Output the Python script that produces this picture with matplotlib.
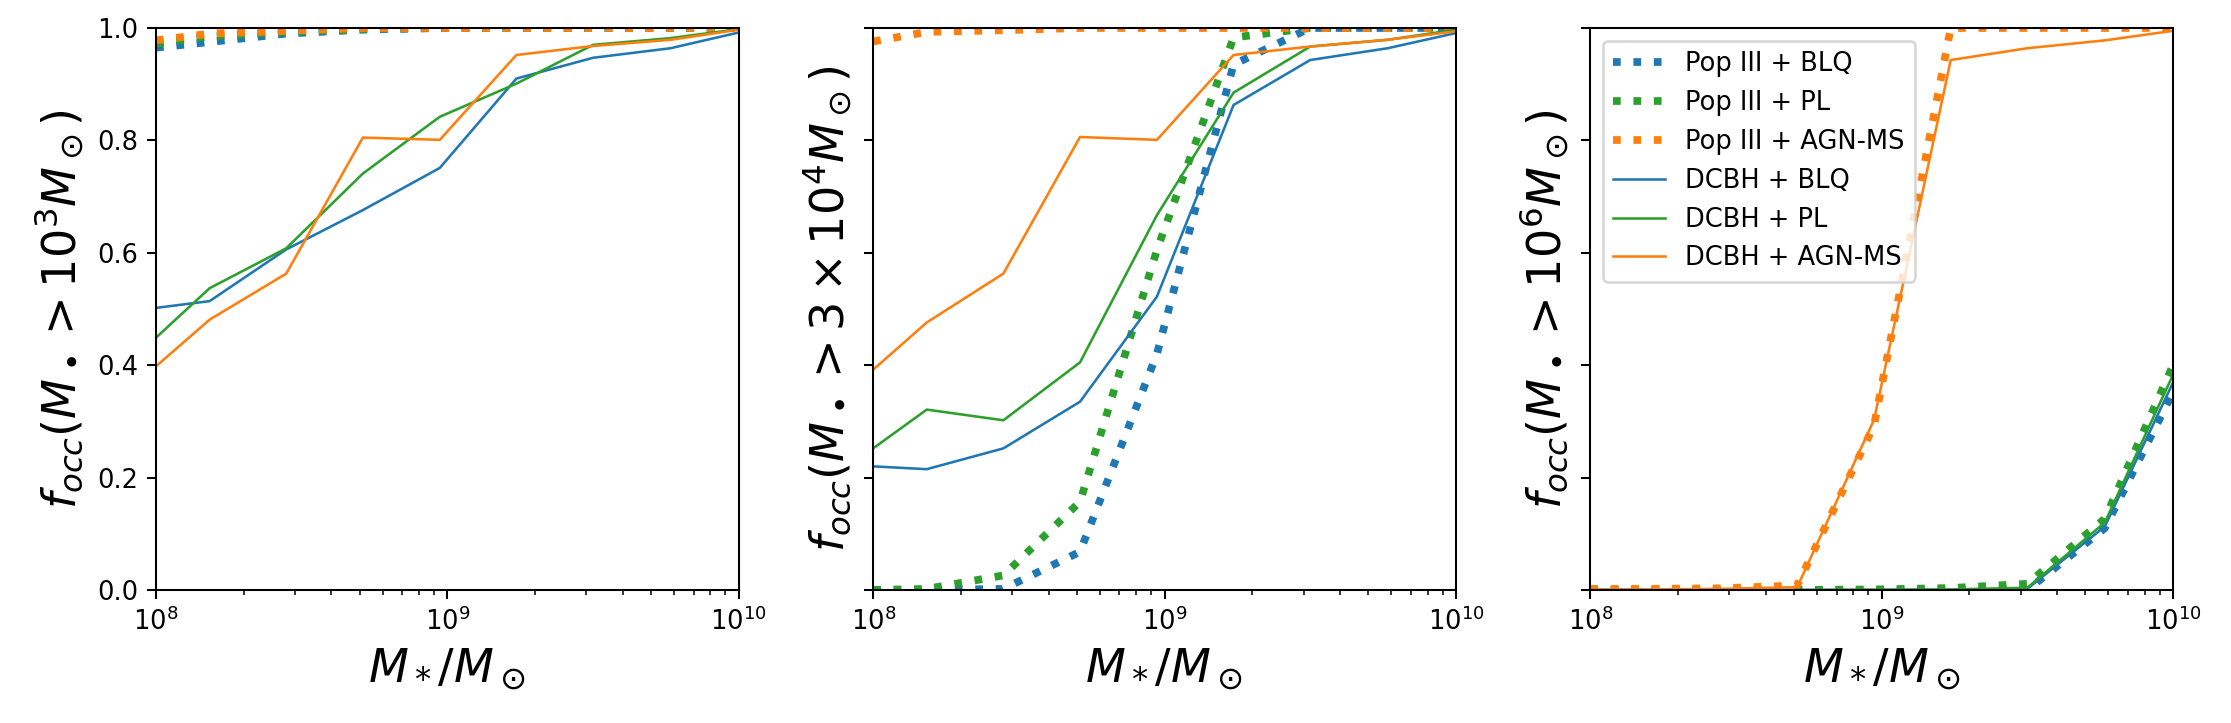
import numpy as np
import matplotlib
matplotlib.use("Agg")
import matplotlib.pyplot as plt

# stellar-mass bin positions (log10 M*/Msun)
log_mstar = [8.0, 8.184, 8.447, 8.71, 8.974, 9.237, 9.50, 9.766, 10.0]

labels = ["Pop III + BLQ", "Pop III + PL", "Pop III + AGN-MS",
          "DCBH + BLQ", "DCBH + PL", "DCBH + AGN-MS"]
ylabels = [r"$f_{occ}(M_\bullet > 10^3 M_\odot)$",
           r"$f_{occ}(M_\bullet > 3 \times 10^4 M_\odot)$",
           r"$f_{occ}(M_\bullet > 10^6 M_\odot)$"]

# Panel 1: M_BH > 1e3
p1_pop3_blq = [0.965, 0.975, 0.990, 0.997, 1.0, 1.0, 1.0, 1.0, 1.0]
p1_pop3_pl = [0.972, 0.985, 0.993, 0.998, 1.0, 1.0, 1.0, 1.0, 1.0]
p1_pop3_ms = [0.978, 0.990, 0.995, 1.0, 1.0, 1.0, 1.0, 1.0, 1.0]
p1_dcbh_blq = [0.502, 0.514, 0.606, 0.676, 0.751, 0.910, 0.947, 0.964, 0.992]
p1_dcbh_pl = [0.449, 0.537, 0.608, 0.741, 0.842, 0.901, 0.970, 0.982, 0.998]
p1_dcbh_ms = [0.398, 0.481, 0.563, 0.805, 0.801, 0.952, 0.968, 0.979, 0.997]

# Panel 2: M_BH > 3e4
p2_pop3_blq = [0.0, 0.0, 0.002, 0.068, 0.420, 0.935, 1.0, 1.0, 1.0]
p2_pop3_pl = [0.0, 0.002, 0.026, 0.157, 0.605, 0.983, 1.0, 1.0, 1.0]
p2_pop3_ms = [0.976, 0.993, 0.996, 1.0, 1.0, 1.0, 1.0, 1.0, 1.0]
p2_dcbh_blq = [0.220, 0.215, 0.252, 0.335, 0.522, 0.863, 0.943, 0.964, 0.991]
p2_dcbh_pl = [0.252, 0.321, 0.302, 0.405, 0.667, 0.885, 0.967, 0.979, 0.997]
p2_dcbh_ms = [0.392, 0.476, 0.563, 0.806, 0.801, 0.952, 0.967, 0.979, 0.994]

# Panel 3: M_BH > 1e6
p3_pop3_blq = [0.0, 0.0, 0.0, 0.0, 0.0, 0.0, 0.0, 0.110, 0.352]
p3_pop3_pl = [0.0, 0.0, 0.0, 0.0, 0.001, 0.0035, 0.011, 0.127, 0.400]
p3_pop3_ms = [0.002, 0.002, 0.003, 0.008, 0.293, 1.0, 1.0, 1.0, 1.0]
p3_dcbh_blq = [0.0, 0.0, 0.0, 0.0, 0.0, 0.0, 0.002, 0.113, 0.369]
p3_dcbh_pl = [0.0, 0.0, 0.0, 0.0, 0.0005, 0.001, 0.004, 0.120, 0.383]
p3_dcbh_ms = [0.001, 0.001, 0.002, 0.005, 0.303, 0.943, 0.964, 0.978, 0.995]

panels = [
    [p1_pop3_blq, p1_pop3_pl, p1_pop3_ms, p1_dcbh_blq, p1_dcbh_pl, p1_dcbh_ms],
    [p2_pop3_blq, p2_pop3_pl, p2_pop3_ms, p2_dcbh_blq, p2_dcbh_pl, p2_dcbh_ms],
    [p3_pop3_blq, p3_pop3_pl, p3_pop3_ms, p3_dcbh_blq, p3_dcbh_pl, p3_dcbh_ms],
]

colors = ["#1f77b4", "#2ca02c", "#ff7f0e"] * 2
styles = [":"] * 3 + ["-"] * 3
widths = [3] * 3 + [1] * 3

mstar = 10 ** np.array(log_mstar)

W, H, DPI = 2231, 723, 185
fig, axes = plt.subplots(1, 3, sharey=True, figsize=(W / DPI, H / DPI), dpi=DPI)
fig.subplots_adjust(left=156 / W, right=2173 / W, bottom=1 - 590 / H,
                    top=1 - 28 / H, wspace=134.5 / 583)

for ax, series, ylab in zip(axes, panels, ylabels):
    for y, c, ls, lw, lab in zip(series, colors, styles, widths, labels):
        ax.plot(mstar, y, color=c, ls=ls, lw=lw, label=lab)
    ax.set_xscale("log")
    ax.set_xlim(1e8, 1e10)
    ax.set_ylim(0, 1)
    ax.set_xlabel(r"$M_*/M_\odot$", fontsize=18)
    ax.set_ylabel(ylab, fontsize=18)

axes[0].set_yticks([0.0, 0.2, 0.4, 0.6, 0.8, 1.0])
axes[2].legend(loc="upper left", fontsize=10)

fig.savefig("out.png", dpi=DPI)
